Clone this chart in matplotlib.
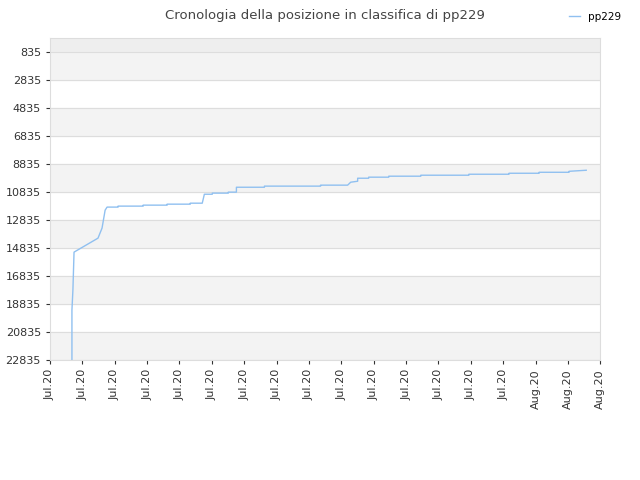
import matplotlib
matplotlib.use("Agg")
import matplotlib.pyplot as plt

days = [1.36, 1.36, 1.42, 1.49, 2.97, 3.22, 3.41, 3.53, 4.21, 4.21, 5.76, 5.76, 7.24, 7.24,
        8.67, 8.67, 9.41, 9.54, 10.03, 10.03, 11.02, 11.02, 11.52, 11.52, 13.25, 13.25,
        16.72, 16.72, 18.39, 18.58, 19.01, 19.01, 19.69, 19.69, 20.93, 20.93, 22.91, 22.91,
        25.88, 25.88, 28.36, 28.36, 30.22, 30.22, 32.07, 32.07, 33.13]
positions = [22835, 19264, 17835, 15120, 14120, 13400, 12120, 11900, 11900, 11830, 11830,
             11760, 11760, 11690, 11690, 11620, 11620, 10980, 10980, 10900, 10900, 10830,
             10830, 10480, 10480, 10400, 10400, 10330, 10330, 10120, 10050, 9835, 9835, 9760,
             9760, 9690, 9690, 9620, 9620, 9550, 9550, 9480, 9480, 9410, 9410, 9340, 9264]
ytick_vals = list(range(835, 22836, 2000))
xtick_labels = ["Jul.20"] * 15 + ["Aug.20"] * 3

fig, ax = plt.subplots(figsize=(6.4, 4.8), dpi=100)
fig.subplots_adjust(left=0.078, right=0.938, top=0.92, bottom=0.25)
ax.plot(days, positions, color="#90c0f0", lw=1, label="pp229")
ax.set_ylim(22835, -165)
ax.set_xlim(0, 34)
ax.axhspan(-165, 835, color="#eeeeee", zorder=0)
for i, v in enumerate(ytick_vals):
    if i % 2 == 1:
        ax.axhspan(v - 2000, v, color="#f3f3f3", zorder=0)
ax.set_yticks(ytick_vals)
ax.set_xticks([2 * i for i in range(18)])
ax.set_xticklabels(xtick_labels, rotation=90)
ax.tick_params(labelsize=8, colors="#333333", length=3)
ax.grid(axis="y", color="#dddddd", lw=0.8)
for s in ax.spines.values():
    s.set_color("#dddddd")
ax.set_title("Cronologia della posizione in classifica di pp229", fontsize=9.5, color="#444444", pad=14)
fig.legend(loc="upper right", bbox_to_anchor=(0.985, 0.995), frameon=False, fontsize=7.5, handlelength=1)
fig.savefig("out.png")
